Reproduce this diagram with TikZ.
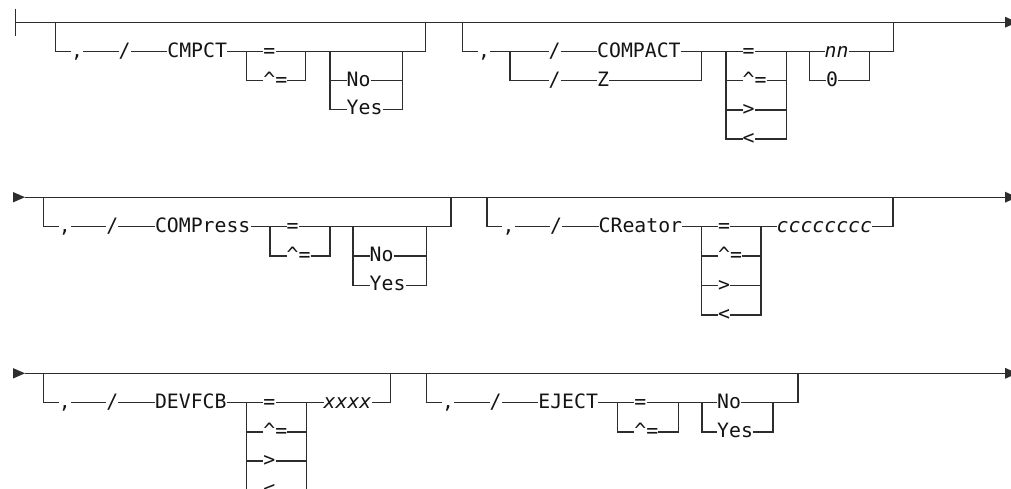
\documentclass[tikz,border=0pt]{standalone}
\usepackage{fontspec}
\newfontfamily\rrfont{DejaVu Sans Mono}
\definecolor{linec}{RGB}{45,45,45}
\begin{document}
\begin{tikzpicture}[x=1pt,y=-1pt,
  rr/.style={line width=1.4pt, draw=linec},
  lbl/.style={inner sep=0pt, text height=14pt, text depth=3pt, anchor=west, text=black!92,
    font=\rrfont\fontsize{19.8}{22}\selectfont},
  clbl/.style={lbl, anchor=center},
  ilbl/.style={lbl, font=\rrfont\itshape\fontsize{19.8}{22}\selectfont}]
\useasboundingbox (0,0) rectangle (1011,488);

% ================= ROW 1 =================
\coordinate (r1s) at (15.7,22.2);
\coordinate (r1st) at (15.7,8.5);
\coordinate (r1sb) at (15.7,36);
\coordinate (r1e) at (1005,22.2);
\draw[rr] (r1st) -- (r1sb);
\draw[rr] (r1s) -- (r1e);
\fill[linec] (r1e) -- ++(0,-5.5) -- ++(12,5.5) -- ++(-12,5.5) -- cycle;

% --- group CMPCT
\coordinate (A1a) at (55.7,22.2);
\coordinate (A1b) at (55.7,51.6);
\node[clbl] (A1cm) at (77.2,51.6) {,};
\node[clbl] (A1sl) at (124.7,51.6) {/};
\node[lbl] (A1kw) at (167.2,51.6) {CMPCT};
\coordinate (A1qLa) at (246.7,51.6);
\coordinate (A1qLb) at (246.7,80.6);
\coordinate (A1qRa) at (305.7,51.6);
\coordinate (A1qRb) at (305.7,80.6);
\node[lbl] (A1q1) at (263.2,51.6) {=};
\node[lbl] (A1q2) at (263.2,80.6) {\textasciicircum=};
\coordinate (A1nLa) at (330,51.6);
\coordinate (A1nLb) at (330,80.6);
\coordinate (A1nLc) at (330,109.2);
\coordinate (A1nRa) at (402.3,51.6);
\coordinate (A1nRb) at (402.3,80.6);
\coordinate (A1nRc) at (402.3,109.2);
\node[lbl] (A1no) at (346.5,80.6) {No};
\node[lbl] (A1yes) at (346.5,109.2) {Yes};
\coordinate (A1za) at (425.7,51.6);
\coordinate (A1zb) at (425.7,22.2);
\draw[rr] (A1a) -- (A1b) -- (A1cm.west);
\draw[rr] (A1cm.east) -- (A1sl.west);
\draw[rr] (A1sl.east) -- (A1kw.west);
\draw[rr] (A1kw.east) -- (A1q1.west);
\draw[rr] (A1q1.east) -- (A1nRa) -- (A1za) -- (A1zb);
\draw[rr] (A1qLa) -- (A1qLb) -- (A1q2.west);
\draw[rr] (A1q2.east) -- (A1qRb) -- (A1qRa);
\draw[rr] (A1nLa) -- (A1nLc) -- (A1yes.west);
\draw[rr] (A1nLb) -- (A1no.west);
\draw[rr] (A1no.east) -- (A1nRb);
\draw[rr] (A1yes.east) -- (A1nRc) -- (A1nRa);

% --- group COMPACT / Z
\coordinate (B1a) at (462.6,22.2);
\coordinate (B1b) at (462.6,51.6);
\node[clbl] (B1cm) at (484,51.6) {,};
\coordinate (B1jA) at (510,51.6);
\coordinate (B1jB) at (510,80.6);
\node[clbl] (B1s1) at (554.7,51.6) {/};
\node[clbl] (B1s2) at (554.7,80.6) {/};
\node[lbl] (B1k1) at (597,51.6) {COMPACT};
\node[lbl] (B1k2) at (597,80.6) {Z};
\coordinate (B1kRa) at (701.7,51.6);
\coordinate (B1kRb) at (701.7,80.6);
\coordinate (B1qLa) at (726,51.6);
\coordinate (B1qLb) at (726,80.6);
\coordinate (B1qLc) at (726,109.8);
\coordinate (B1qLd) at (726,139);
\coordinate (B1qRa) at (786.7,51.6);
\coordinate (B1qRb) at (786.7,80.6);
\coordinate (B1qRc) at (786.7,109.8);
\coordinate (B1qRd) at (786.7,139);
\node[lbl] (B1q1) at (742.5,51.6) {=};
\node[lbl] (B1q2) at (742.5,80.6) {\textasciicircum=};
\node[lbl] (B1q3) at (742.5,109.8) {>};
\node[lbl] (B1q4) at (742.5,139) {<};
\coordinate (B1nLa) at (809.6,51.6);
\coordinate (B1nLb) at (809.6,80.6);
\coordinate (B1nRa) at (869.7,51.6);
\coordinate (B1nRb) at (869.7,80.6);
\node[ilbl] (B1n1) at (824.5,51.6) {nn};
\node[lbl] (B1n2) at (826,80.6) {0};
\coordinate (B1za) at (893.4,51.6);
\coordinate (B1zb) at (893.4,22.2);
\draw[rr] (B1a) -- (B1b) -- (B1cm.west);
\draw[rr] (B1cm.east) -- (B1s1.west);
\draw[rr] (B1jA) -- (B1jB) -- (B1s2.west);
\draw[rr] (B1s1.east) -- (B1k1.west);
\draw[rr] (B1s2.east) -- (B1k2.west);
\draw[rr] (B1k1.east) -- (B1q1.west);
\draw[rr] (B1k2.east) -- (B1kRb) -- (B1kRa);
\draw[rr] (B1q1.east) -- (B1n1.west);
\draw[rr] (B1n1.east) -- (B1za) -- (B1zb);
\draw[rr] (B1qLa) -- (B1qLd) -- (B1q4.west);
\draw[rr] (B1qLb) -- (B1q2.west);
\draw[rr] (B1qLc) -- (B1q3.west);
\draw[rr] (B1q2.east) -- (B1qRb);
\draw[rr] (B1q3.east) -- (B1qRc);
\draw[rr] (B1q4.east) -- (B1qRd) -- (B1qRa);
\draw[rr] (B1nLa) -- (B1nLb) -- (B1n2.west);
\draw[rr] (B1n2.east) -- (B1nRb) -- (B1nRa);

% ================= ROW 2 =================
\coordinate (r2s) at (25,197.2);
\coordinate (r2e) at (1005,197.2);
\fill[linec] (r2s) -- ++(-12,-5.2) -- ++(0,10.4) -- cycle;
\draw[rr] (r2s) -- (r2e);
\fill[linec] (r2e) -- ++(0,-5.5) -- ++(12,5.5) -- ++(-12,5.5) -- cycle;

% --- group COMPress
\coordinate (A2a) at (43.3,197.2);
\coordinate (A2b) at (43.3,226.6);
\node[clbl] (A2cm) at (64.8,226.6) {,};
\node[clbl] (A2sl) at (112.3,226.6) {/};
\node[lbl] (A2kw) at (154.8,226.6) {COMPress};
\coordinate (A2qLa) at (270,226.6);
\coordinate (A2qLb) at (270,256);
\coordinate (A2qRa) at (330,226.6);
\coordinate (A2qRb) at (330,256);
\node[lbl] (A2q1) at (286.5,226.6) {=};
\node[lbl] (A2q2) at (286.5,256) {\textasciicircum=};
\coordinate (A2nLa) at (353,226.6);
\coordinate (A2nLb) at (353,256);
\coordinate (A2nLc) at (353,285.3);
\coordinate (A2nRa) at (426.7,226.6);
\coordinate (A2nRb) at (426.7,256);
\coordinate (A2nRc) at (426.7,285.3);
\node[lbl] (A2no) at (369.5,256) {No};
\node[lbl] (A2yes) at (369.5,285.3) {Yes};
\coordinate (A2za) at (451,226.6);
\coordinate (A2zb) at (451,197.2);
\draw[rr] (A2a) -- (A2b) -- (A2cm.west);
\draw[rr] (A2cm.east) -- (A2sl.west);
\draw[rr] (A2sl.east) -- (A2kw.west);
\draw[rr] (A2kw.east) -- (A2q1.west);
\draw[rr] (A2q1.east) -- (A2nRa) -- (A2za) -- (A2zb);
\draw[rr] (A2qLa) -- (A2qLb) -- (A2q2.west);
\draw[rr] (A2q2.east) -- (A2qRb) -- (A2qRa);
\draw[rr] (A2nLa) -- (A2nLc) -- (A2yes.west);
\draw[rr] (A2nLb) -- (A2no.west);
\draw[rr] (A2no.east) -- (A2nRb);
\draw[rr] (A2yes.east) -- (A2nRc) -- (A2nRa);

% --- group CReator
\coordinate (B2a) at (487,197.2);
\coordinate (B2b) at (487,226.6);
\node[clbl] (B2cm) at (508.5,226.6) {,};
\node[clbl] (B2sl) at (556,226.6) {/};
\node[lbl] (B2kw) at (598.5,226.6) {CReator};
\coordinate (B2qLa) at (701.5,226.6);
\coordinate (B2qLb) at (701.5,256);
\coordinate (B2qLc) at (701.5,285.6);
\coordinate (B2qLd) at (701.5,315);
\coordinate (B2qRa) at (761,226.6);
\coordinate (B2qRb) at (761,256);
\coordinate (B2qRc) at (761,285.6);
\coordinate (B2qRd) at (761,315);
\node[lbl] (B2q1) at (718,226.6) {=};
\node[lbl] (B2q2) at (718,256) {\textasciicircum=};
\node[lbl] (B2q3) at (718,285.6) {>};
\node[lbl] (B2q4) at (718,315) {<};
\node[ilbl] (B2v) at (776.5,226.6) {cccccccc};
\coordinate (B2za) at (893,226.6);
\coordinate (B2zb) at (893,197.2);
\draw[rr] (B2a) -- (B2b) -- (B2cm.west);
\draw[rr] (B2cm.east) -- (B2sl.west);
\draw[rr] (B2sl.east) -- (B2kw.west);
\draw[rr] (B2kw.east) -- (B2q1.west);
\draw[rr] (B2q1.east) -- (B2v.west);
\draw[rr] (B2v.east) -- (B2za) -- (B2zb);
\draw[rr] (B2qLa) -- (B2qLd) -- (B2q4.west);
\draw[rr] (B2qLb) -- (B2q2.west);
\draw[rr] (B2qLc) -- (B2q3.west);
\draw[rr] (B2q2.east) -- (B2qRb);
\draw[rr] (B2q3.east) -- (B2qRc);
\draw[rr] (B2q4.east) -- (B2qRd) -- (B2qRa);

% ================= ROW 3 =================
\coordinate (r3s) at (25,373.3);
\coordinate (r3e) at (1005,373.3);
\fill[linec] (r3s) -- ++(-12,-5.2) -- ++(0,10.4) -- cycle;
\draw[rr] (r3s) -- (r3e);
\fill[linec] (r3e) -- ++(0,-5.5) -- ++(12,5.5) -- ++(-12,5.5) -- cycle;

% --- group DEVFCB
\coordinate (A3a) at (43.3,373.3);
\coordinate (A3b) at (43.3,402.7);
\node[clbl] (A3cm) at (64.8,402.7) {,};
\node[clbl] (A3sl) at (112.3,402.7) {/};
\node[lbl] (A3kw) at (154.8,402.7) {DEVFCB};
\coordinate (A3qLa) at (246.7,402.7);
\coordinate (A3qLb) at (246.7,431.8);
\coordinate (A3qLc) at (246.7,461);
\coordinate (A3qLd) at (246.7,490.4);
\coordinate (A3qRa) at (306.7,402.7);
\coordinate (A3qRb) at (306.7,431.8);
\coordinate (A3qRc) at (306.7,461);
\coordinate (A3qRd) at (306.7,490.4);
\node[lbl] (A3q1) at (263.2,402.7) {=};
\node[lbl] (A3q2) at (263.2,431.8) {\textasciicircum=};
\node[lbl] (A3q3) at (263.2,461) {>};
\node[lbl] (A3q4) at (263.2,490.4) {<};
\node[ilbl] (A3v) at (323.5,402.7) {xxxx};
\coordinate (A3za) at (390.7,402.7);
\coordinate (A3zb) at (390.7,373.3);
\draw[rr] (A3a) -- (A3b) -- (A3cm.west);
\draw[rr] (A3cm.east) -- (A3sl.west);
\draw[rr] (A3sl.east) -- (A3kw.west);
\draw[rr] (A3kw.east) -- (A3q1.west);
\draw[rr] (A3q1.east) -- (A3v.west);
\draw[rr] (A3v.east) -- (A3za) -- (A3zb);
\draw[rr] (A3qLa) -- (A3qLd) -- (A3q4.west);
\draw[rr] (A3qLb) -- (A3q2.west);
\draw[rr] (A3qLc) -- (A3q3.west);
\draw[rr] (A3q2.east) -- (A3qRb);
\draw[rr] (A3q3.east) -- (A3qRc);
\draw[rr] (A3q4.east) -- (A3qRd) -- (A3qRa);

% --- group EJECT
\coordinate (B3a) at (426.7,373.3);
\coordinate (B3b) at (426.7,402.7);
\node[clbl] (B3cm) at (448.2,402.7) {,};
\node[clbl] (B3sl) at (495.7,402.7) {/};
\node[lbl] (B3kw) at (538.2,402.7) {EJECT};
\coordinate (B3qLa) at (617.7,402.7);
\coordinate (B3qLb) at (617.7,431.8);
\coordinate (B3qRa) at (678.5,402.7);
\coordinate (B3qRb) at (678.5,431.8);
\node[lbl] (B3q1) at (634.2,402.7) {=};
\node[lbl] (B3q2) at (634.2,431.8) {\textasciicircum=};
\coordinate (B3nLa) at (702,402.7);
\coordinate (B3nLb) at (702,431.8);
\coordinate (B3nRa) at (773,402.7);
\coordinate (B3nRb) at (773,431.8);
\node[lbl] (B3no) at (717,402.7) {No};
\node[lbl] (B3yes) at (717,431.8) {Yes};
\coordinate (B3za) at (798,402.7);
\coordinate (B3zb) at (798,373.3);
\draw[rr] (B3a) -- (B3b) -- (B3cm.west);
\draw[rr] (B3cm.east) -- (B3sl.west);
\draw[rr] (B3sl.east) -- (B3kw.west);
\draw[rr] (B3kw.east) -- (B3q1.west);
\draw[rr] (B3q1.east) -- (B3no.west);
\draw[rr] (B3no.east) -- (B3za) -- (B3zb);
\draw[rr] (B3qLa) -- (B3qLb) -- (B3q2.west);
\draw[rr] (B3q2.east) -- (B3qRb) -- (B3qRa);
\draw[rr] (B3nLa) -- (B3nLb) -- (B3yes.west);
\draw[rr] (B3yes.east) -- (B3nRb) -- (B3nRa);
\end{tikzpicture}
\end{document}
